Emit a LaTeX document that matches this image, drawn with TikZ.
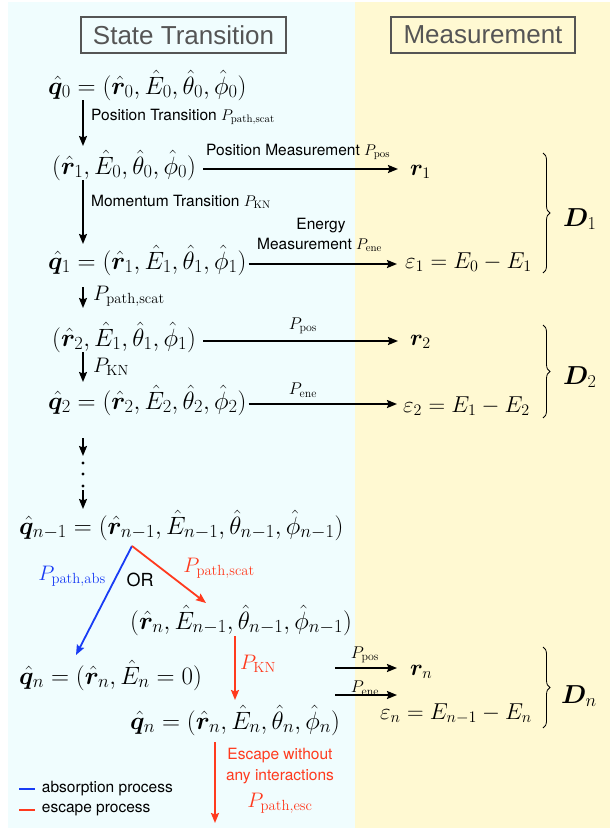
\RequirePackage{fix-cm}
\documentclass[tikz,border=0pt]{standalone}
\usepackage{amsmath,bm}
\usepackage{fontspec}
\setsansfont{TeX Gyre Heros}
\newfontfamily\hdrfont{Liberation Sans}
\DeclareMathSizes{25}{25}{18.5}{14}
\usetikzlibrary{arrows.meta,calc,decorations.pathreplacing}
\definecolor{cyanbg}{RGB}{240,253,254}
\definecolor{yellowbg}{RGB}{255,249,210}
\definecolor{escred}{RGB}{255,58,30}
\definecolor{absblue}{RGB}{25,60,245}
\definecolor{hdrgray}{RGB}{85,85,85}
\tikzset{
  mth/.style={inner sep=0pt, font=\fontsize{25}{29}\selectfont, anchor=base west},
  msr/.style={inner sep=0pt, font=\fontsize{23}{27}\selectfont, anchor=base west},
  lbl/.style={inner sep=0pt, font=\sffamily\fontsize{15.5}{19}\selectfont, anchor=base west},
  plbl/.style={inner sep=0pt, font=\fontsize{21}{24}\selectfont},
  mlbl/.style={inner sep=0pt, font=\fontsize{17}{20}\selectfont},
  dlbl/.style={inner sep=0pt, font=\fontsize{26}{30}\selectfont, anchor=base west},
  hdr/.style={draw=hdrgray, line width=1.3pt, text=hdrgray, font=\hdrfont\fontsize{26}{30}\selectfont, minimum height=36pt, inner sep=0pt},
  arr/.style={line width=1.7pt, -{Stealth[length=10pt,width=8pt,inset=1.5pt]}},
  redarr/.style={escred, line width=1.8pt, -{Stealth[length=10pt,width=8pt,inset=1.5pt]}},
  bluearr/.style={absblue, line width=1.8pt, -{Stealth[length=10pt,width=8pt,inset=1.5pt]}},
  bracestyle/.style={line width=0.8pt, decorate, decoration={brace, amplitude=7pt}},
}
\begin{document}
\begin{tikzpicture}[x=1pt, y=-1pt]
\useasboundingbox (0,0) rectangle (610,830);
\fill[cyanbg] (8,2) rectangle (355,828);
\fill[yellowbg] (355,2) rectangle (610,828);

% headers
\node[hdr, minimum width=205pt] (h1) at (183.5,35) {State Transition};
\node[hdr, minimum width=184pt] (h2) at (483,35) {Measurement};

% state rows
\node[mth] (q0) at (48,94) {$\hat{\bm q}_0 = (\hat{\bm r}_0, \hat E_0, \hat\theta_0, \hat\phi_0)$};
\node[mth] (row1) at (52,174) {$(\hat{\bm r}_1, \hat E_0, \hat\theta_0, \hat\phi_0)$};
\node[mth] (q1) at (48,269) {$\hat{\bm q}_1 = (\hat{\bm r}_1, \hat E_1, \hat\theta_1, \hat\phi_1)$};
\node[mth] (row3) at (52,346) {$(\hat{\bm r}_2, \hat E_1, \hat\theta_1, \hat\phi_1)$};
\node[mth] (q2) at (48,409) {$\hat{\bm q}_2 = (\hat{\bm r}_2, \hat E_2, \hat\theta_2, \hat\phi_2)$};
\node[mth] (qn1) at (19,534) {$\hat{\bm q}_{n-1} = (\hat{\bm r}_{n-1}, \hat E_{n-1}, \hat\theta_{n-1}, \hat\phi_{n-1})$};
\node[mth] (row6) at (130,629) {$(\hat{\bm r}_{n}, \hat E_{n-1}, \hat\theta_{n-1}, \hat\phi_{n-1})$};
\node[mth] (qabs) at (19,684) {$\hat{\bm q}_{n} = (\hat{\bm r}_{n}, \hat E_{n} = 0)$};
\node[mth] (qesc) at (130,729) {$\hat{\bm q}_{n} = (\hat{\bm r}_{n}, \hat E_{n}, \hat\theta_{n}, \hat\phi_{n})$};

% measurement nodes
\node[msr] (r1) at (410,175) {$\bm r_1$};
\node[msr] (eps1) at (405,268) {$\varepsilon_1 = E_0 - E_1$};
\node[msr] (r2) at (410,345) {$\bm r_2$};
\node[msr] (eps2) at (403,412) {$\varepsilon_2 = E_1 - E_2$};
\node[msr] (rn) at (410,675) {$\bm r_n$};
\node[msr] (epsn) at (380,719) {$\varepsilon_n = E_{n-1} - E_n$};

% braces and D
\coordinate (b1t) at (543,153); \coordinate (b1b) at (543,273);
\coordinate (b2t) at (543,325); \coordinate (b2b) at (543,418);
\coordinate (bnt) at (543,647); \coordinate (bnb) at (543,728);
\draw[bracestyle] (b1t) -- (b1b);
\draw[bracestyle] (b2t) -- (b2b);
\draw[bracestyle] (bnt) -- (bnb);
\node[dlbl] (D1) at (563,226) {$\bm D_1$};
\node[dlbl] (D2) at (563,384) {$\bm D_2$};
\node[dlbl] (Dn) at (561,703) {$\bm D_n$};

% vertical black arrows
\coordinate (vx) at (83,0);
\draw[arr] ($(q0.base -| vx)+(0,6)$) -- ($(row1.base -| vx)+(0,-28)$);
\draw[arr] ($(row1.base -| vx)+(0,6)$) -- ($(q1.base -| vx)+(0,-25)$);
\draw[arr] ($(q1.base -| vx)+(0,18)$) -- ($(row3.base -| vx)+(0,-38)$);
\draw[arr] ($(row3.base -| vx)+(0,6)$) -- ($(q2.base -| vx)+(0,-27)$);
\draw[arr] ($(q2.base -| vx)+(0,29)$) -- ($(q2.base -| vx)+(0,47)$);
\foreach \dy in {54,65,77} \fill ($(q2.base -| vx)+(0,\dy)$) circle (1.7pt);
\draw[arr] ($(q2.base -| vx)+(0,81)$) -- ($(qn1.base -| vx)+(0,-25)$);

\node[lbl] (l1) at (91,120) {Position Transition $P_{\mathrm{path,scat}}$};
\node[lbl] (l2) at (91,206) {Momentum Transition $P_{\mathrm{KN}}$};
\node[plbl, anchor=west] (l3) at (93,296) {$P_{\mathrm{path,scat}}$};
\node[plbl, anchor=west] (l4) at (93,367) {$P_{\mathrm{KN}}$};

% horizontal measurement arrows
\draw[arr] ($(row1.base east)+(7,-5)$) -- ($(row1.base east -| r1.base west)+(-12,-5)$);
\node[lbl] (m1) at (206,155) {Position Measurement $P_{\mathrm{pos}}$};
\draw[arr] ($(q1.base east)+(2,-5)$) -- ($(q1.base east -| eps1.base west)+(-8,-5)$);
\node[lbl, anchor=center] (m2a) at (321,226) {Energy};
\node[lbl] (m2b) at (257,249) {Measurement $P_{\mathrm{ene}}$};
\draw[arr] ($(row3.base east)+(7,-5)$) -- ($(row3.base east -| r2.base west)+(-12,-5)$);
\node[mlbl] (m3) at (303,326) {$P_{\mathrm{pos}}$};
\draw[arr] ($(q2.base east)+(2,-5)$) -- ($(q2.base east -| eps2.base west)+(-6,-5)$);
\node[mlbl] (m4) at (303,390) {$P_{\mathrm{ene}}$};

\coordinate (pa) at (335,668);
\coordinate (pb) at (335,695);
\draw[arr, shorten >=13pt] (pa) -- (pa -| rn.west);
\draw[arr, shorten >=13pt] (pb) -- (pb -| rn.west);
\node[mlbl] (m5) at (365,655) {$P_{\mathrm{pos}}$};
\node[mlbl] (m6) at (365,688) {$P_{\mathrm{ene}}$};

% branch
\coordinate (apex) at (132,546);
\coordinate (absend) at (76,655);
\coordinate (scatend) at (206,603);
\draw[bluearr] (apex) -- (absend);
\draw[redarr] (apex) -- (scatend);
\node[plbl, text=absblue] (pabs) at (72,576) {$P_{\mathrm{path,abs}}$};
\node[inner sep=0pt, font=\sffamily\fontsize{18}{20}\selectfont] (or) at (140,580) {OR};
\node[plbl, text=escred] (pscat) at (219,568) {$P_{\mathrm{path,scat}}$};

\coordinate (kx) at (235,0);
\draw[redarr] ($(row6.base -| kx)+(0,7)$) -- ($(qesc.base -| kx)+(0,-29)$);
\node[plbl, text=escred, anchor=west] (pkn) at (240,664) {$P_{\mathrm{KN}}$};

\coordinate (ex) at (215,0);
\coordinate (escend) at (215,823);
\draw[redarr] ($(qesc.base -| ex)+(0,13)$) -- (escend);
\node[inner sep=0pt, text=escred, align=center, font=\sffamily\fontsize{15.5}{21}\selectfont] (esct) at (280,766) {Escape without\\any interactions};
\node[plbl, text=escred] (pesc) at (280,803) {$P_{\mathrm{path,esc}}$};

% legend
\coordinate (lg1) at (19,789);
\coordinate (lg2) at (19,810);
\draw[absblue, line width=1.8pt] (lg1) -- ++(16,0) node[lbl, anchor=west, text=black, xshift=6pt] (lga) {absorption process};
\draw[escred, line width=1.8pt] (lg2) -- ++(16,0) node[lbl, anchor=west, text=black, xshift=6pt] (lgb) {escape process};
\end{tikzpicture}
\end{document}
